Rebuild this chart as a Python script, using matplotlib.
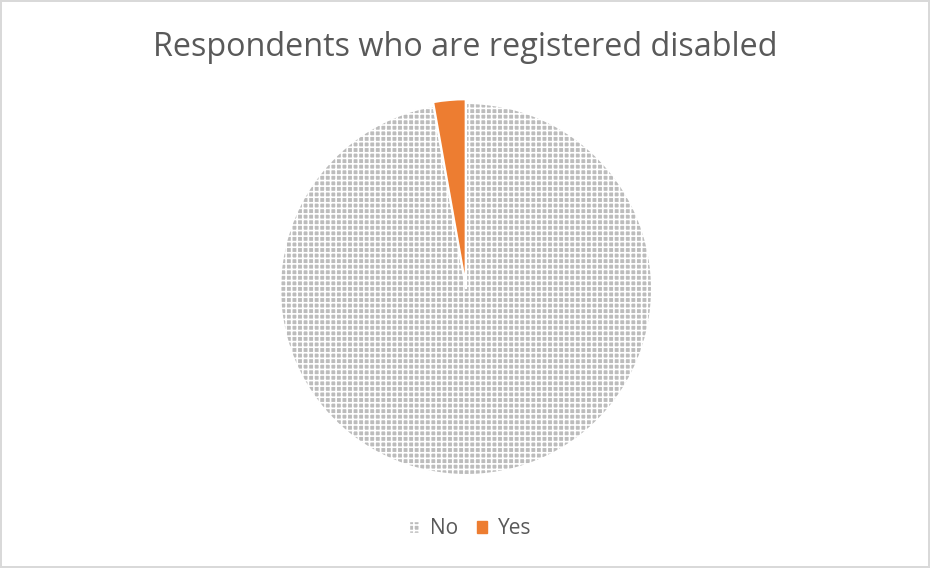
import matplotlib.pyplot as plt
from matplotlib.patches import Patch

# Data
labels = ["No", "Yes"]
shares = [97.2, 2.8]

plt.rcParams['font.family'] = ['Open Sans', 'DejaVu Sans']
plt.rcParams['hatch.linewidth'] = 1.2

fig = plt.figure(figsize=(9.3, 5.68), dpi=100)
fig.patch.set_edgecolor('#d9d9d9')
fig.patch.set_linewidth(1.5)

ax = fig.add_axes([0.3011, 0.1637, 0.4, 0.655])

wedges, _ = ax.pie(
    shares,
    startangle=90,
    counterclock=False,
    explode=[0, 0.02],
    colors=['#bcbcbc', '#ed7d31'],
    wedgeprops=dict(edgecolor='white', linewidth=1.5),
)
# checkered pattern on the "No" slice
wedges[0].set_hatch('+++')

ax.set_xlim(-1, 1)
ax.set_ylim(-1, 1)
ax.set_aspect('equal')
ax.axis('off')

fig.text(0.5, 1 - 48 / 568, "Respondents who are registered disabled",
         ha='center', va='center', fontsize=23.3, color='#595959')

handles = [
    Patch(facecolor='#bcbcbc', edgecolor='white', hatch='+++'),
    Patch(facecolor='#ed7d31', edgecolor='#ed7d31'),
]
fig.legend(handles, labels, loc='center', bbox_to_anchor=(470 / 930, 1 - 529 / 568),
           ncol=2, frameon=False, fontsize=15, handlelength=0.5,
           handleheight=0.5, handletextpad=0.5, columnspacing=0.9,
           labelcolor='#595959')

plt.savefig("out.png", dpi=100)
